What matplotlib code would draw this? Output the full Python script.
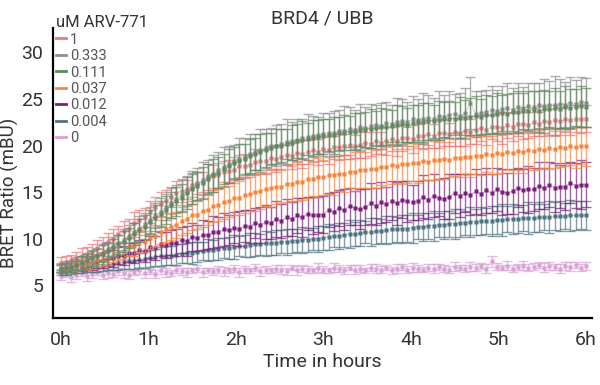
import numpy as np
import matplotlib
matplotlib.use("Agg")
import matplotlib.pyplot as plt
from matplotlib.lines import Line2D

plt.rcParams['font.family'] = ['Roboto', 'DejaVu Sans']

# --- DATA (BRET ratio in mBU, read sample every 0.06 h) ---
time_h = np.arange(101) * 0.06

conc_labels = ['1', '0.333', '0.111', '0.037', '0.012', '0.004', '0']

mean_1 = [
    7.4, 7.5, 7.7, 7.9, 8.2, 8.4, 8.6, 9.0, 9.4, 9.7,
    10.0, 10.5, 10.8, 11.1, 11.7, 12.0, 12.3, 12.9, 13.4, 13.7,
    14.0, 14.5, 14.9, 15.1, 15.3, 15.8, 16.0, 16.1, 16.6, 16.7,
    16.8, 17.2, 17.3, 17.4, 17.8, 17.8, 17.9, 18.2, 18.3, 18.3,
    18.7, 18.6, 18.8, 19.0, 18.9, 19.2, 19.1, 19.3, 19.5, 19.3,
    19.6, 19.5, 19.8, 19.8, 19.9, 20.1, 19.9, 20.1, 20.3, 20.2,
    20.5, 20.3, 20.5, 20.7, 20.5, 20.8, 20.8, 20.7, 21.0, 21.0,
    21.2, 21.0, 21.3, 21.3, 21.2, 21.5, 21.4, 21.6, 21.5, 21.7,
    21.9, 21.7, 22.0, 22.0, 21.9, 22.2, 22.0, 22.3, 22.3, 22.2,
    22.5, 22.3, 22.6, 22.5, 22.7, 22.6, 22.8, 22.7, 22.9, 22.8,
    22.9,
]
mean_0333 = [
    6.9, 7.0, 7.1, 7.3, 7.5, 7.8, 8.0, 8.3, 8.5, 8.9,
    9.2, 9.5, 9.9, 10.3, 10.7, 11.1, 11.6, 12.0, 12.5, 12.9,
    13.4, 13.8, 14.3, 14.7, 15.1, 15.5, 15.9, 16.3, 16.7, 17.0,
    17.4, 17.7, 18.0, 18.3, 18.6, 18.8, 19.1, 19.3, 19.5, 19.7,
    19.9, 20.0, 20.2, 20.4, 20.5, 20.6, 20.8, 20.9, 21.0, 21.1,
    21.2, 21.4, 21.3, 21.6, 21.6, 21.8, 21.7, 22.0, 21.9, 22.1,
    22.2, 22.1, 22.4, 22.3, 22.5, 22.6, 22.5, 22.8, 22.7, 22.9,
    23.0, 22.9, 23.2, 23.1, 23.3, 23.4, 23.2, 23.5, 24.6, 23.4,
    23.5, 23.6, 23.8, 23.7, 23.9, 24.0, 23.8, 24.1, 24.0, 24.2,
    24.1, 24.3, 24.2, 24.4, 24.3, 24.5, 24.4, 24.6, 24.5, 24.7,
    24.6,
]
mean_0111 = [
    6.8, 6.9, 7.0, 7.2, 7.4, 7.7, 7.9, 8.1, 8.4, 8.7,
    9.0, 9.4, 9.7, 10.1, 10.5, 10.9, 11.3, 11.8, 12.2, 12.7,
    13.1, 13.6, 14.0, 14.4, 14.9, 15.3, 15.7, 16.0, 16.4, 16.8,
    17.1, 17.5, 17.8, 18.1, 18.3, 18.6, 18.9, 19.1, 19.3, 19.5,
    19.7, 19.9, 20.0, 20.2, 20.3, 20.5, 20.6, 20.7, 20.8, 20.9,
    21.0, 21.1, 21.1, 21.3, 21.4, 21.5, 21.5, 21.7, 21.7, 21.8,
    21.9, 22.0, 22.0, 22.1, 22.2, 22.3, 22.2, 22.4, 22.5, 22.5,
    22.6, 22.6, 22.7, 22.8, 22.8, 22.9, 23.0, 23.0, 23.1, 23.2,
    23.1, 23.3, 23.3, 23.4, 23.5, 23.4, 23.6, 23.6, 23.7, 23.7,
    23.8, 23.7, 23.9, 23.9, 24.0, 23.9, 24.1, 24.0, 24.1, 24.2,
    24.1,
]
mean_0037 = [
    6.8, 6.8, 6.9, 7.0, 7.2, 7.3, 7.4, 7.7, 7.8, 8.0,
    8.3, 8.6, 8.7, 9.1, 9.2, 9.6, 9.7, 10.1, 10.3, 10.7,
    11.0, 11.3, 11.5, 11.9, 12.1, 12.5, 12.6, 13.0, 13.1, 13.5,
    13.6, 13.9, 14.0, 14.4, 14.4, 14.7, 14.8, 15.0, 15.1, 15.3,
    15.4, 15.6, 15.6, 15.9, 15.9, 16.1, 16.1, 16.4, 16.4, 16.6,
    16.6, 16.8, 16.8, 17.0, 17.0, 17.2, 17.2, 17.4, 17.4, 17.5,
    17.5, 17.7, 17.7, 17.9, 17.8, 18.0, 18.0, 18.1, 18.1, 18.3,
    18.2, 18.4, 18.4, 18.6, 18.5, 18.7, 18.7, 18.8, 18.8, 18.9,
    18.9, 19.1, 19.0, 19.2, 19.1, 19.3, 19.2, 19.4, 19.3, 19.5,
    19.4, 19.6, 19.5, 19.7, 19.6, 19.8, 19.7, 19.9, 19.8, 20.0,
    19.9,
]
mean_0012 = [
    6.8, 6.9, 6.9, 7.1, 7.1, 7.4, 7.4, 7.6, 7.7, 7.9,
    7.9, 8.2, 8.2, 8.5, 8.5, 8.8, 8.7, 9.1, 9.0, 9.4,
    9.3, 9.6, 9.6, 9.9, 9.8, 10.2, 10.1, 10.4, 10.4, 10.7,
    10.7, 11.0, 10.9, 11.2, 11.1, 11.4, 11.3, 11.7, 11.5, 11.8,
    11.7, 12.1, 11.9, 12.3, 12.1, 12.5, 12.3, 12.7, 12.5, 12.6,
    12.6, 13.1, 12.9, 13.3, 13.1, 13.5, 13.3, 13.2, 13.4, 13.8,
    13.5, 13.9, 13.7, 14.1, 13.8, 14.2, 14.0, 13.9, 14.1, 14.5,
    14.2, 14.6, 14.4, 14.3, 14.5, 14.9, 14.6, 14.9, 14.7, 15.1,
    14.8, 15.2, 14.9, 15.3, 15.0, 14.9, 15.1, 15.5, 15.2, 15.3,
    15.3, 15.7, 15.4, 15.8, 15.5, 15.6, 15.6, 16.0, 15.7, 15.8,
    15.8,
]
mean_0004 = [
    6.4, 6.5, 6.6, 6.7, 6.8, 6.9, 6.9, 7.0, 7.1, 7.2,
    7.3, 7.4, 7.5, 7.6, 7.6, 7.7, 7.8, 7.9, 8.0, 8.1,
    8.2, 8.2, 8.3, 8.4, 8.5, 8.5, 8.6, 8.7, 8.8, 8.8,
    8.9, 9.0, 9.0, 9.1, 9.2, 9.2, 9.3, 9.4, 9.4, 9.5,
    9.5, 9.6, 9.7, 9.7, 9.8, 9.8, 9.9, 9.9, 10.0, 10.0,
    10.1, 10.2, 10.3, 10.3, 10.4, 10.5, 10.5, 10.6, 10.7, 10.7,
    10.8, 10.8, 10.9, 11.0, 11.0, 11.1, 11.1, 11.2, 11.3, 11.3,
    11.4, 11.4, 11.5, 11.5, 11.6, 11.6, 11.7, 11.7, 11.8, 11.8,
    11.9, 11.9, 11.9, 12.0, 12.0, 12.1, 12.1, 12.1, 12.2, 12.2,
    12.2, 12.3, 12.3, 12.3, 12.4, 12.4, 12.4, 12.5, 12.5, 12.5,
    12.5,
]
mean_0 = [
    6.0, 6.2, 5.9, 6.1, 6.3, 6.0, 6.2, 6.4, 6.1, 6.3,
    6.2, 6.5, 6.3, 6.1, 6.4, 6.6, 6.3, 6.5, 6.2, 6.6,
    6.4, 6.3, 6.7, 6.5, 6.4, 6.6, 6.8, 6.4, 6.6, 6.5,
    6.7, 6.5, 6.6, 6.8, 6.4, 6.7, 6.6, 6.9, 6.5, 6.7,
    6.6, 6.8, 6.7, 6.5, 6.9, 6.6, 6.8, 6.7, 6.6, 6.9,
    6.7, 6.6, 6.9, 6.8, 6.6, 6.9, 6.7, 6.8, 6.6, 6.9,
    6.8, 6.7, 6.9, 6.6, 6.8, 7.0, 6.7, 6.9, 6.8, 6.7,
    6.9, 6.8, 7.0, 6.8, 6.7, 7.0, 6.9, 6.8, 7.0, 6.9,
    7.1, 6.8, 7.6, 7.0, 6.9, 7.1, 6.8, 7.0, 7.1, 6.9,
    7.0, 7.2, 6.9, 7.1, 7.0, 6.8, 7.1, 7.0, 7.2, 6.9,
    7.1,
]

err_1 = [
    0.6, 0.7, 0.6, 0.7, 0.8, 0.7, 0.8, 0.9, 0.8, 0.9,
    1.0, 0.9, 1.1, 1.0, 1.2, 1.1, 1.0, 1.2, 1.1, 1.3,
    1.2, 1.1, 1.3, 1.2, 1.0, 1.3, 1.2, 1.1, 1.4, 1.2,
    1.3, 1.1, 1.2, 1.4, 1.2, 1.3, 1.1, 1.4, 1.2, 1.3,
    1.2, 1.4, 1.3, 1.1, 1.4, 1.2, 1.5, 1.3, 1.2, 1.4,
    1.3, 1.5, 1.2, 1.4, 1.3, 1.5, 1.2, 1.4, 1.6, 1.3,
    1.4, 1.2, 1.5, 1.3, 1.6, 1.4, 1.2, 1.5, 1.3, 1.4,
    1.5, 1.3, 1.6, 1.4, 1.2, 1.5, 1.4, 1.6, 1.3, 1.5,
    1.4, 1.6, 1.3, 1.5, 1.7, 1.4, 1.5, 1.3, 1.6, 1.4,
    1.5, 1.3, 1.6, 1.4, 1.7, 1.5, 1.3, 1.6, 1.4, 1.5,
    1.4,
]
err_0333 = [
    0.5, 0.6, 0.5, 0.7, 0.6, 0.7, 0.8, 0.7, 0.9, 0.8,
    1.0, 0.9, 1.1, 1.2, 1.0, 1.3, 1.2, 1.4, 1.3, 1.5,
    1.4, 1.6, 1.5, 1.7, 1.6, 1.8, 1.7, 1.9, 1.8, 2.0,
    1.9, 2.1, 2.0, 1.8, 2.2, 2.0, 2.1, 1.9, 2.3, 2.1,
    2.0, 2.2, 2.1, 2.4, 2.0, 2.3, 2.1, 2.5, 2.2, 2.0,
    2.3, 2.1, 2.4, 2.2, 2.6, 2.3, 2.1, 2.5, 2.2, 2.4,
    2.2, 2.5, 2.3, 2.1, 2.6, 2.4, 2.2, 2.5, 2.3, 2.7,
    2.4, 2.2, 2.6, 2.3, 2.5, 2.1, 2.4, 2.7, 2.8, 2.5,
    2.4, 2.4, 2.6, 2.3, 2.5, 2.7, 2.4, 2.6, 2.3, 2.5,
    2.6, 2.4, 2.9, 2.5, 3.2, 2.6, 2.4, 2.8, 2.5, 2.7,
    2.6,
]
err_0111 = [
    0.5, 0.5, 0.6, 0.6, 0.7, 0.7, 0.8, 0.8, 0.9, 0.9,
    1.0, 1.0, 1.1, 1.1, 1.2, 1.2, 1.3, 1.3, 1.4, 1.4,
    1.5, 1.4, 1.6, 1.5, 1.7, 1.6, 1.5, 1.7, 1.6, 1.8,
    1.7, 1.6, 1.8, 1.7, 1.9, 1.6, 1.8, 1.7, 1.9, 1.8,
    1.7, 1.9, 1.8, 1.6, 1.9, 1.8, 2.0, 1.7, 1.9, 1.8,
    1.9, 1.7, 2.0, 1.8, 1.9, 1.7, 2.0, 1.8, 1.9, 2.1,
    1.8, 2.0, 1.9, 1.7, 2.1, 1.9, 1.8, 2.0, 1.9, 2.1,
    2.0, 1.8, 2.1, 1.9, 2.0, 1.8, 2.2, 1.9, 2.0, 2.1,
    1.9, 2.1, 2.0, 2.2, 1.9, 2.1, 2.0, 2.2, 1.9, 2.1,
    2.0, 2.2, 2.1, 1.9, 2.2, 2.0, 2.3, 2.1, 2.0, 2.2,
    2.1,
]
err_0037 = [
    0.4, 0.4, 0.5, 0.5, 0.5, 0.6, 0.6, 0.7, 0.7, 0.8,
    0.8, 0.9, 0.9, 1.0, 1.0, 1.1, 1.1, 1.2, 1.2, 1.3,
    1.3, 1.4, 1.4, 1.5, 1.5, 1.6, 1.5, 1.7, 1.6, 1.7,
    1.7, 1.8, 1.7, 1.9, 1.8, 1.9, 1.8, 2.0, 1.9, 1.8,
    2.0, 1.9, 1.8, 2.0, 1.9, 2.1, 1.9, 2.0, 1.8, 2.1,
    1.9, 2.0, 2.1, 1.9, 2.0, 1.8, 2.1, 2.0, 1.9, 2.1,
    2.0, 1.9, 2.1, 2.0, 1.8, 2.1, 2.0, 1.9, 2.1, 2.0,
    1.9, 2.1, 2.0, 2.2, 1.9, 2.0, 2.1, 1.9, 2.2, 2.0,
    2.1, 1.9, 2.0, 2.2, 2.0, 1.9, 2.1, 2.0, 2.2, 1.9,
    2.0, 2.1, 1.9, 2.2, 2.0, 2.1, 1.9, 2.0, 2.2, 2.0,
    2.1,
]
err_0012 = [
    0.4, 0.4, 0.5, 0.5, 0.6, 0.6, 0.7, 0.7, 0.8, 0.8,
    0.9, 0.9, 1.0, 1.0, 1.1, 1.1, 1.2, 1.2, 1.3, 1.3,
    1.4, 1.3, 1.5, 1.4, 1.6, 1.5, 1.4, 1.6, 1.5, 1.7,
    1.6, 1.8, 1.6, 1.7, 1.9, 1.7, 1.8, 1.6, 1.9, 1.8,
    1.7, 1.9, 1.8, 2.0, 1.8, 1.9, 2.1, 1.8, 2.0, 1.9,
    2.0, 1.8, 2.1, 1.9, 2.2, 2.0, 1.8, 2.1, 1.9, 2.2,
    2.0, 2.2, 1.9, 2.1, 2.3, 2.0, 2.2, 1.9, 2.1, 2.3,
    2.1, 2.3, 2.0, 2.2, 2.4, 2.1, 2.3, 2.0, 2.2, 2.4,
    2.2, 2.4, 2.1, 2.3, 2.5, 2.2, 2.4, 2.1, 2.3, 2.5,
    2.3, 2.5, 2.2, 2.4, 2.6, 2.3, 2.5, 2.2, 2.4, 2.6,
    2.4,
]
err_0004 = [
    0.3, 0.4, 0.4, 0.4, 0.5, 0.5, 0.5, 0.6, 0.6, 0.6,
    0.7, 0.7, 0.7, 0.8, 0.8, 0.8, 0.9, 0.9, 0.9, 1.0,
    1.0, 1.0, 1.1, 1.0, 1.1, 1.2, 1.1, 1.0, 1.2, 1.1,
    1.2, 1.1, 1.2, 1.3, 1.1, 1.2, 1.3, 1.2, 1.1, 1.3,
    1.2, 1.3, 1.2, 1.4, 1.3, 1.2, 1.4, 1.3, 1.2, 1.4,
    1.3, 1.4, 1.2, 1.4, 1.3, 1.5, 1.3, 1.4, 1.2, 1.5,
    1.4, 1.3, 1.5, 1.4, 1.3, 1.5, 1.4, 1.6, 1.3, 1.5,
    1.4, 1.6, 1.3, 1.5, 1.4, 1.6, 1.5, 1.3, 1.6, 1.4,
    1.5, 1.4, 1.6, 1.5, 1.7, 1.4, 1.6, 1.5, 1.4, 1.7,
    1.5, 1.6, 1.4, 1.7, 1.5, 1.6, 1.4, 1.7, 1.6, 1.5,
    1.6,
]
err_0 = [
    0.4, 0.3, 0.5, 0.4, 0.3, 0.5, 0.4, 0.3, 0.4, 0.5,
    0.3, 0.4, 0.5, 0.4, 0.3, 0.4, 0.5, 0.3, 0.4, 0.4,
    0.5, 0.3, 0.4, 0.4, 0.5, 0.3, 0.4, 0.5, 0.3, 0.4,
    0.4, 0.5, 0.3, 0.4, 0.5, 0.4, 0.3, 0.4, 0.5, 0.4,
    0.3, 0.4, 0.5, 0.4, 0.3, 0.5, 0.4, 0.4, 0.3, 0.5,
    0.4, 0.3, 0.5, 0.4, 0.4, 0.3, 0.5, 0.4, 0.3, 0.4,
    0.5, 0.4, 0.3, 0.4, 0.5, 0.3, 0.4, 0.5, 0.4, 0.3,
    0.4, 0.5, 0.3, 0.4, 0.4, 0.5, 0.3, 0.4, 0.5, 0.4,
    0.3, 0.5, 0.6, 0.4, 0.3, 0.5, 0.4, 0.3, 0.5, 0.4,
    0.4, 0.3, 0.5, 0.4, 0.3, 0.5, 0.4, 0.5, 0.3, 0.4,
    0.4,
]

series_means = [mean_1, mean_0333, mean_0111, mean_0037, mean_0012, mean_0004, mean_0]
series_errs = [err_1, err_0333, err_0111, err_0037, err_0012, err_0004, err_0]
series_colors = ['#e9787c', '#8e8e8e', '#5f8a60', '#f5863f', '#7a1f7c', '#4f7383', '#d9a2d6']

hour_ticks = [0, 1, 2, 3, 4, 5, 6]
hour_labels = ['0h', '1h', '2h', '3h', '4h', '5h', '6h']
y_ticks = [5, 10, 15, 20, 25, 30]

text_col = '#333333'

fig = plt.figure(figsize=(6.0, 3.85), dpi=100)
ax = fig.add_axes([0.088, 0.174, 0.899, 0.753])

# draw from lowest concentration upwards so the top curves end on top
draw_order = [6, 5, 4, 3, 0, 1, 2]
for z, i in enumerate(draw_order):
    col = series_colors[i]
    ax.errorbar(time_h, series_means[i], yerr=series_errs[i], fmt='none',
                ecolor=col, elinewidth=1.0, capsize=3.4, capthick=1.0,
                alpha=0.7, zorder=2 + z)
    ax.plot(time_h, series_means[i], color=col, lw=0.6, alpha=0.45, zorder=2.3 + z)
    ax.plot(time_h, series_means[i], ls='none', marker='s', ms=2.3,
            color=col, mec='none', zorder=2.5 + z)

ax.set_xlim(-0.09, 6.07)
ax.set_ylim(1.5, 32.6)
ax.set_xticks(hour_ticks)
ax.set_xticklabels(hour_labels)
ax.set_yticks(y_ticks)
ax.tick_params(axis='both', length=0, labelsize=14, colors=text_col)
ax.tick_params(axis='x', pad=9)
ax.tick_params(axis='y', pad=7)
for side in ['top', 'right']:
    ax.spines[side].set_visible(False)
for side in ['left', 'bottom']:
    ax.spines[side].set_linewidth(1.6)
    ax.spines[side].set_color('black')

ax.set_xlabel('Time in hours', fontsize=14, color=text_col, labelpad=3)
ax.set_ylabel('BRET Ratio (mBU)', fontsize=13.5, color=text_col)
ax.yaxis.set_label_coords(-0.063, 0.43)
ax.set_title('BRD4 / UBB', fontsize=14, color=text_col, pad=3)

handles = [Line2D([0], [0], color=c, lw=2) for c in series_colors]
leg = ax.legend(handles, conc_labels, title='uM ARV-771', loc='upper left',
                bbox_to_anchor=(-0.005, 1.065), frameon=False, fontsize=10.5,
                title_fontsize=12, handlelength=0.7, handletextpad=0.25,
                labelspacing=0.17, borderaxespad=0.0, alignment='left')
for txt in leg.get_texts():
    txt.set_color('#555555')
leg.get_title().set_color(text_col)

fig.savefig('out.png', dpi=100)
